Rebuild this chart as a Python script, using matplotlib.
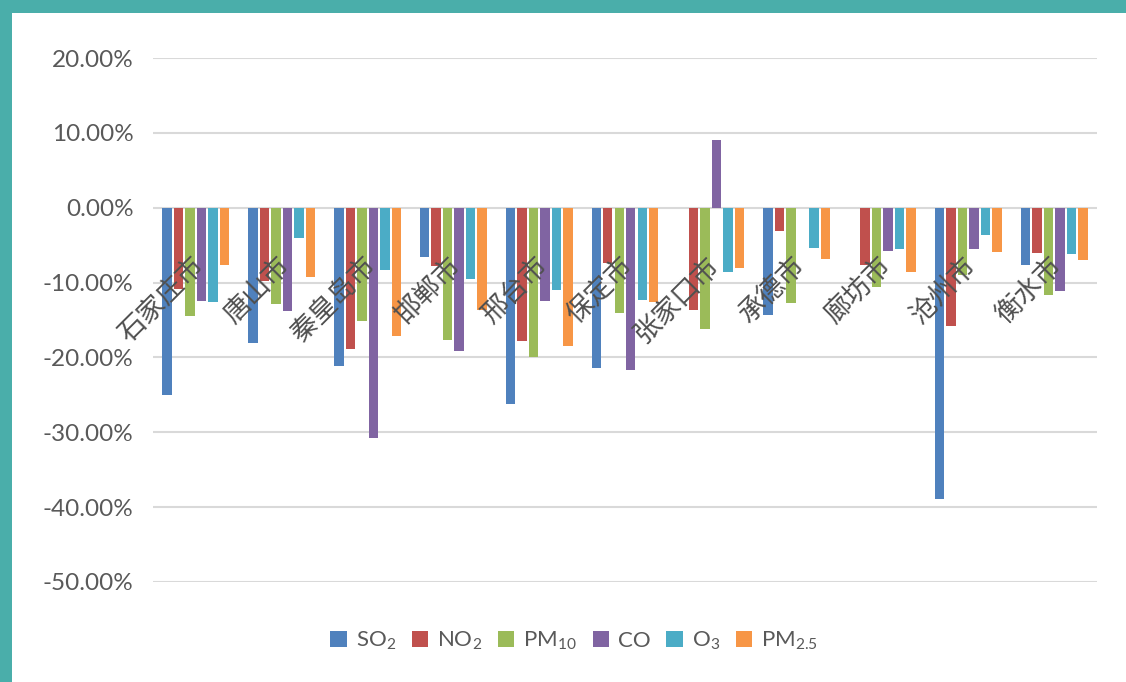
import numpy as np
import matplotlib
matplotlib.use('Agg')
import matplotlib.pyplot as plt
from matplotlib.patches import Rectangle
from matplotlib.ticker import FuncFormatter

# ---------------- data (percent change) ----------------
cities = ['石家庄市', '唐山市', '秦皇岛市', '邯郸市', '邢台市', '保定市',
          '张家口市', '承德市', '廊坊市', '沧州市', '衡水市']
so2  = [-25.0, -18.1, -21.1, -6.6, -26.2, -21.4, 0.0, -14.3, 0.0, -38.9, -7.6]
no2  = [-10.9, -9.8, -18.9, -7.8, -17.8, -7.4, -13.7, -3.1, -7.6, -15.8, -6.0]
pm10 = [-14.4, -12.9, -15.1, -17.7, -20.0, -14.0, -16.2, -12.7, -10.6, -9.0, -11.6]
co   = [-12.4, -13.8, -30.7, -19.1, -12.5, -21.7, 9.0, 0.0, -5.8, -5.5, -11.1]
o3   = [-12.6, -4.0, -8.3, -9.5, -11.0, -12.3, -8.6, -5.4, -5.5, -3.7, -6.2]
pm25 = [-7.7, -9.2, -17.1, -13.6, -18.5, -12.6, -8.0, -6.8, -8.6, -5.9, -7.0]

series = [so2, no2, pm10, co, o3, pm25]
labels = [r'SO$_\mathregular{2}$', r'NO$_\mathregular{2}$', r'PM$_\mathregular{10}$',
          'CO', r'O$_\mathregular{3}$', r'PM$_\mathregular{2.5}$']
colors = ['#4F81BD', '#C0504D', '#9BBB59', '#8064A2', '#4BACC6', '#F79646']

plt.rcParams['font.family'] = ['Lato', 'DejaVu Sans']
plt.rcParams['mathtext.fontset'] = 'custom'
plt.rcParams['mathtext.rm'] = 'Lato'

fig = plt.figure(figsize=(11.26, 6.82), dpi=100)
fig.patch.set_facecolor('white')
# teal frame strips (top and left)
fig.patches.append(Rectangle((0, 1 - 13 / 682), 1, 13 / 682, transform=fig.transFigure,
                             facecolor='#4AAEAA', edgecolor='none', zorder=0))
fig.patches.append(Rectangle((0, 0), 12 / 1126, 1, transform=fig.transFigure,
                             facecolor='#4AAEAA', edgecolor='none', zorder=0))

ax = fig.add_axes([153 / 1126, 100 / 682, 944 / 1126, 524 / 682])
x = np.arange(len(cities))
pitch, w = 0.134, 0.11
for k, (vals, lab, c) in enumerate(zip(series, labels, colors)):
    ax.bar(x + (k - 2.5) * pitch, np.array(vals) / 100, width=w, color=c, label=lab, zorder=3)

ax.set_xlim(-0.5, len(cities) - 0.5)
ax.set_ylim(-0.5, 0.2)
ax.set_yticks(np.arange(-0.5, 0.21, 0.1))
ax.yaxis.set_major_formatter(FuncFormatter(lambda v, p: f'{round(v * 100, 6) + 0.0:.2f}%'))
ax.tick_params(axis='y', length=0, pad=14, labelsize=17.5, labelcolor='#595959')
ax.set_xticks([])
ax.grid(axis='y', color='#D9D9D9', lw=1.5, zorder=0)
for s in ax.spines.values():
    s.set_visible(False)

for i, name in enumerate(cities):
    ax.annotate(name, xy=(i, 0), xytext=(10, -32), textcoords='offset points',
                rotation=45, ha='right', va='top', fontsize=19.5, color='#505050',
                family=['Noto Sans CJK SC', 'DejaVu Sans'], fontweight='light', zorder=5)

fig.legend(loc='center', bbox_to_anchor=(0.51, 0.06), ncol=6, frameon=False,
           fontsize=16, handlelength=0.75, handleheight=0.75, handletextpad=0.4,
           columnspacing=0.7, labelcolor='#595959')

fig.savefig('out.png', dpi=100, facecolor='white')
